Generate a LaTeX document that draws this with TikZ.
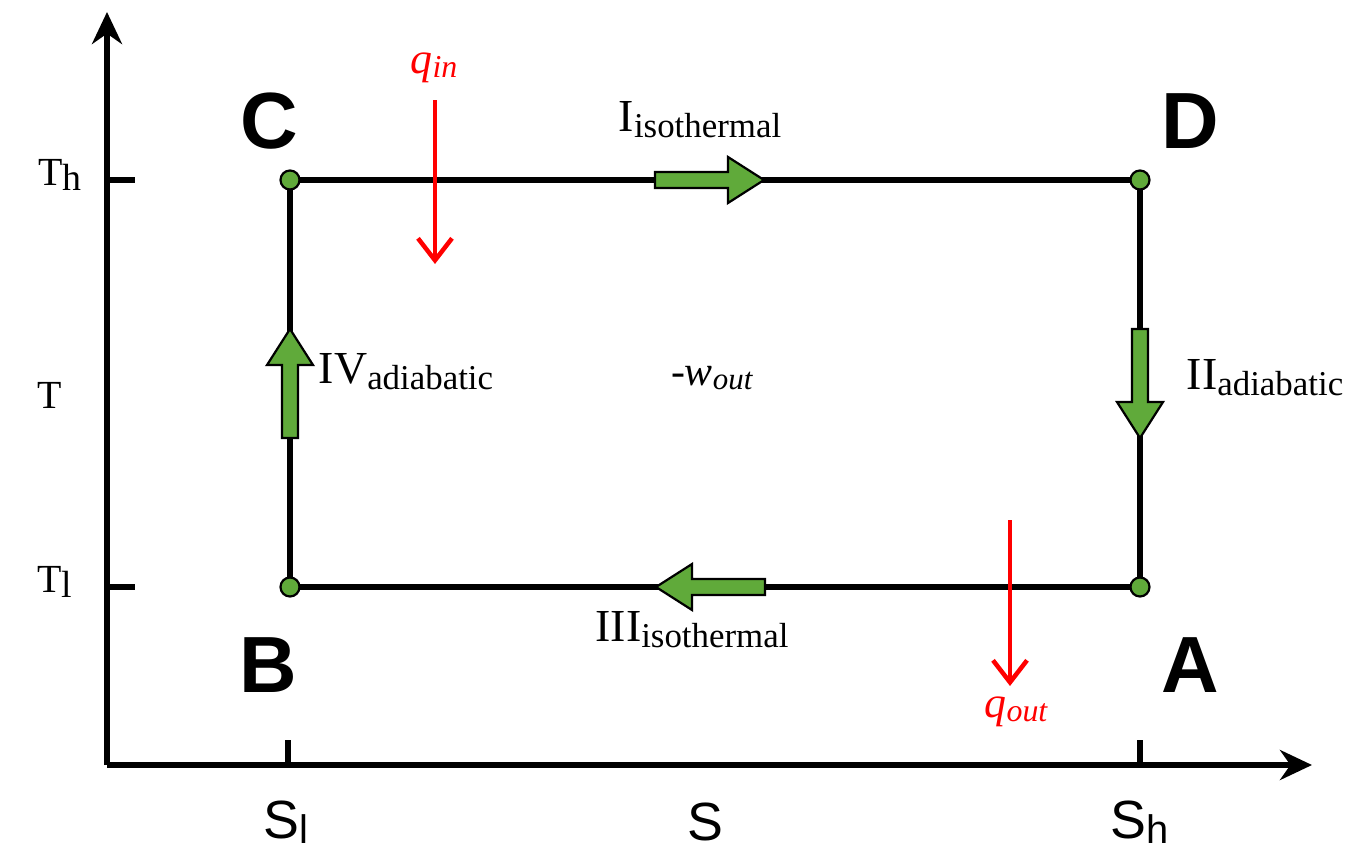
\documentclass[tikz,border=0pt]{standalone}
\usepackage{fontspec}
\setmainfont{Liberation Serif}
\setsansfont{Liberation Sans}
\usetikzlibrary{arrows.meta}
\definecolor{flowgreen}{RGB}{96,170,58}
\definecolor{heatred}{RGB}{255,0,0}
\newcommand{\fs}[1]{\fontsize{#1}{#1}\selectfont}
% lowered, smaller subscript text: size, drop, text
\newcommand{\lowsub}[3]{{\fs{#1}\raisebox{-#2bp}{#3}}}
\begin{document}
\begin{tikzpicture}[x=1bp,y=-1bp,
  axis/.style={line width=5.5bp,-{Stealth[length=32bp,width=30bp]}},
  tickmark/.style={line width=5.5bp},
  cycleline/.style={line width=5.5bp,line join=miter},
  statept/.style={circle,fill=flowgreen,draw=black,line width=2.2bp,minimum size=19bp,inner sep=0pt},
  heat/.style={draw=heatred,line width=4.5bp,-{Straight Barb[length=22bp,width=34bp]}},
  cornerlbl/.style={font=\sffamily\bfseries\fs{80}},
  proclbl/.style={font=\fs{46},inner sep=0pt},
  axislbl/.style={font=\fs{40},inner sep=0pt},
  slbl/.style={font=\sffamily\fs{54},inner sep=0pt},
  heatlbl/.style={text=heatred,font=\itshape\fs{44},inner sep=0pt},
  flowarrow/.pic={\filldraw[fill=flowgreen,draw=black,line width=2.2bp]
    (0,-8) -- (73,-8) -- (73,-23) -- (109,0) -- (73,23) -- (73,8) -- (0,8) -- cycle;}
]
\useasboundingbox (0,0) rectangle (1358,865);

% axes
\coordinate (O) at (107,765);
\coordinate (Ttop) at (107,12);
\coordinate (Send) at (1312,765);
\draw[axis] (O) -- (Ttop);
\draw[axis] (O) -- (Send);

% tick marks
\coordinate (tTh) at (107,180);  \coordinate (tThe) at (135,180);
\coordinate (tTl) at (107,587);  \coordinate (tTle) at (135,587);
\coordinate (tSl) at (288,765);  \coordinate (tSle) at (288,740);
\coordinate (tSh) at (1140,765); \coordinate (tShe) at (1140,740);
\draw[tickmark] (tTh) -- (tThe);
\draw[tickmark] (tTl) -- (tTle);
\draw[tickmark] (tSl) -- (tSle);
\draw[tickmark] (tSh) -- (tShe);

% states of the cycle
\coordinate (C) at (290,180);
\coordinate (D) at (1140,180);
\coordinate (A) at (1140,587);
\coordinate (B) at (290,587);
\draw[cycleline] (C) -- (D) -- (A) -- (B) -- cycle;

% direction arrows on each leg
\pic at (655,180) {flowarrow};
\pic[rotate=-90] at (1140,329) {flowarrow};
\pic[rotate=180] at (765,587) {flowarrow};
\pic[rotate=90] at (290,438) {flowarrow};

\node[statept] (Cpt) at (C) {};
\node[statept] (Dpt) at (D) {};
\node[statept] (Apt) at (A) {};
\node[statept] (Bpt) at (B) {};

% corner letters
\node[cornerlbl] (Clbl) at (269,121) {C};
\node[cornerlbl] (Dlbl) at (1190,121) {D};
\node[cornerlbl] (Blbl) at (268,665) {B};
\node[cornerlbl] (Albl) at (1190,665) {A};

% process names
\node[proclbl] (p1) at (700,120) {I\lowsub{35}{6}{isothermal}};
\node[proclbl] (p2) at (1265,378) {II\lowsub{35}{6}{adiabatic}};
\node[proclbl] (p3) at (692,630) {III\lowsub{35}{6}{isothermal}};
\node[proclbl] (p4) at (406,372) {IV\lowsub{35}{6}{adiabatic}};
\node[font=\fs{42},inner sep=0pt] (w) at (712,378) {-\textit{w}\lowsub{31}{4}{\textit{out}}};

% heat flows
\node[heatlbl] (qin) at (434,68) {q\lowsub{32}{4}{in}};
\coordinate (qinA) at (435,100);
\coordinate (qinB) at (435,264);
\draw[heat] (qinA) -- (qinB);
\coordinate (qoutA) at (1010,520);
\coordinate (qoutB) at (1010,686);
\draw[heat] (qoutA) -- (qoutB);
\node[heatlbl] (qout) at (1016,712) {q\lowsub{32}{4}{out}};

% axis labels
\node[axislbl] (Th) at (60,175) {T\lowsub{38}{5}{h}};
\node[axislbl] (T) at (50,395) {T};
\node[axislbl] (Tl) at (55,582) {T\lowsub{38}{5}{l}};
\node[slbl] (Sl) at (286,822) {S\lowsub{40}{5}{l}};
\node[slbl] (S) at (705,822) {S};
\node[slbl] (Sh) at (1140,822) {S\lowsub{40}{5}{h}};
\end{tikzpicture}
\end{document}
